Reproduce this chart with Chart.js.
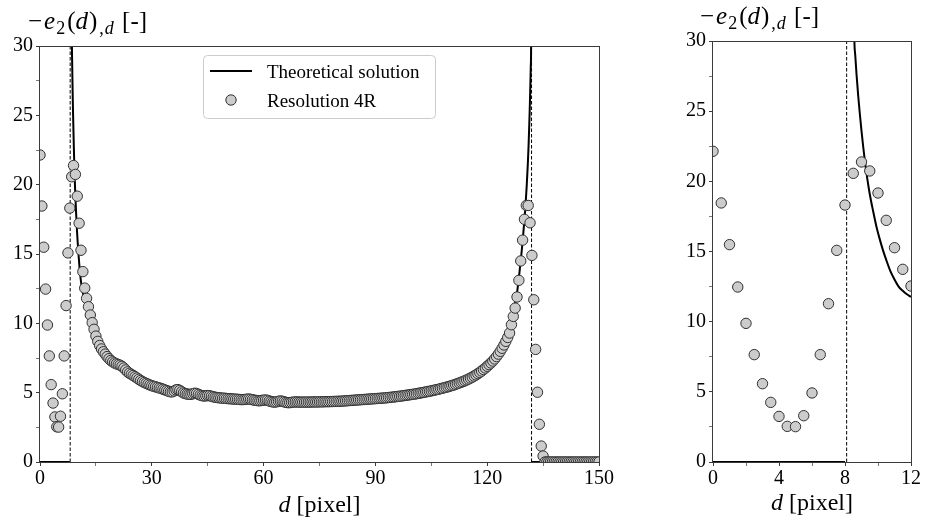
<!DOCTYPE html>
<html>
<head>
<meta charset="utf-8">
<script src="https://cdn.jsdelivr.net/npm/chart.js@4.4.1/dist/chart.umd.min.js"></script>
<style>
  html, body { margin: 0; padding: 0; background: #fff; }
  #wrap { position: relative; width: 925px; height: 523px; }
  canvas { position: absolute; top: 0; }
  #mainChart { left: 0; }
  #zoomChart { left: 620px; }
</style>
</head>
<body>
<div id="wrap">
  <canvas id="mainChart" width="620" height="523"></canvas>
  <canvas id="zoomChart" width="305" height="523"></canvas>
</div>
<script>
// Resolution 4R samples, one every half pixel starting at d = 0
const resStart = 0;
const resStep = 0.5;
const resValues = [
  22.14, 18.46, 15.49, 12.47, 9.88, 7.65, 5.58, 4.25, 3.25, 2.54, 2.52, 3.30, 4.92, 7.65, 11.28, 15.08, 18.31, 20.57, 21.38, 20.74, // 0 - 9.5
  19.17, 17.22, 15.27, 13.73, 12.54, 11.8, 11.2, 10.6, 10.05, 9.57, 9.08, 8.7, 8.4, 8.15, 7.95, 7.78, 7.6, 7.45, 7.32, 7.22,          // 10 - 19.5
  7.14, 7.08, 7.03, 6.98, 6.9, 6.78, 6.64, 6.5, 6.4, 6.32, 6.24, 6.15, 6.06, 5.97, 5.88, 5.8, 5.73, 5.67, 5.61, 5.55,                 // 20 - 29.5
  5.5, 5.46, 5.42, 5.38, 5.34, 5.3, 5.25, 5.2, 5.15, 5.1, 5.06, 5.06, 5.12, 5.2, 5.22, 5.16, 5.06, 4.98, 4.93, 4.9,                   // 30 - 39.5
  4.88, 4.88, 4.92, 4.96, 4.94, 4.88, 4.82, 4.78, 4.76, 4.77, 4.79, 4.78, 4.74, 4.7, 4.67, 4.65, 4.63, 4.62, 4.6, 4.6,                // 40 - 49.5
  4.58, 4.57, 4.56, 4.55, 4.54, 4.53, 4.52, 4.51, 4.5, 4.5, 4.51, 4.53, 4.54, 4.52, 4.49, 4.46, 4.44, 4.42, 4.42, 4.44,               // 50 - 59.5
  4.46, 4.47, 4.45, 4.4, 4.36, 4.33, 4.32, 4.34, 4.38, 4.4, 4.38, 4.34, 4.3, 4.28, 4.28, 4.3, 4.32, 4.33, 4.33, 4.32,                 // 60 - 69.5
  4.32, 4.32, 4.32, 4.32, 4.32, 4.32, 4.33, 4.33, 4.33, 4.33, 4.34, 4.34, 4.34, 4.35, 4.35, 4.35, 4.36, 4.36, 4.37, 4.37,             // 70 - 79.5
  4.38, 4.38, 4.39, 4.4, 4.41, 4.42, 4.43, 4.44, 4.45, 4.46, 4.47, 4.48, 4.49, 4.5, 4.51, 4.52, 4.53, 4.54, 4.55, 4.56,               // 80 - 89.5
  4.57, 4.58, 4.59, 4.6, 4.61, 4.62, 4.63, 4.65, 4.66, 4.68, 4.69, 4.71, 4.73, 4.74, 4.76, 4.78, 4.8, 4.82, 4.84, 4.86,               // 90 - 99.5
  4.88, 4.9, 4.92, 4.95, 4.97, 5.0, 5.02, 5.05, 5.08, 5.1, 5.13, 5.16, 5.19, 5.22, 5.25, 5.29, 5.32, 5.36, 5.39, 5.43,                // 100 - 109.5
  5.47, 5.51, 5.55, 5.6, 5.65, 5.7, 5.75, 5.8, 5.86, 5.92, 5.98, 6.05, 6.12, 6.2, 6.28, 6.37, 6.46, 6.56, 6.67, 6.78,                 // 110 - 119.5
  6.9, 7.02, 7.14, 7.28, 7.43, 7.6, 7.78, 7.98, 8.2, 8.44, 8.7, 8.98, 9.3, 9.9, 10.5, 11.1, 11.9, 13.1, 14.5, 16.0,                  // 120 - 129.5
  17.5, 18.5, 18.5, 17.25, 14.9, 11.7, 8.12, 5.03, 2.72, 1.15, 0.43, 0, 0, 0, 0, 0, 0, 0, 0, 0,                                     // 130 - 139.5
  0, 0, 0, 0, 0, 0, 0, 0, 0, 0, 0, 0, 0, 0, 0, 0, 0, 0, 0, 0,                                                                        // 140 - 149.5
  0                                                                                                                                  // 150
];

// theoretical solution (null = break at the walls)
const theoryD = [0, 8.0, 8.1,
  8.45, 8.57, 8.62, 8.7, 8.8, 8.9, 9.0, 9.1, 9.2, 9.35, 9.5, 9.7, 9.9, 10.1, 10.3, 10.5, 10.75, 11.0, 11.25, 11.5, 11.75, 12,
  13, 14, 15, 16, 18, 20, 23, 26, 30, 35, 40, 45, 50, 55, 60, 65, 70,
  75, 80, 85, 90, 95, 100, 105, 110, 114, 117, 120, 122, 124, 125, 126, 127, 127.5, 128, 128.5, 129, 129.5, 130, 130.3, 130.6,
  130.9, 131.1, 131.3, 131.45, 131.6, 131.7, 131.78, 131.83,
  131.85, 131.9, 150];
const theoryE = [0, 0, null,
  40, 30, 29, 27.6, 26.1, 24.8, 23.6, 22.5, 21.5, 20.2, 19.1, 17.9, 16.8, 15.9, 15.1, 14.4, 13.6, 13.0, 12.5, 12.2, 11.95, 11.76,
  10.75, 9.9, 9.2, 8.6, 7.7, 7.05, 6.4, 5.95, 5.5, 5.1, 4.85, 4.65, 4.52, 4.43, 4.37, 4.33, 4.32,
  4.33, 4.37, 4.43, 4.52, 4.65, 4.85, 5.1, 5.5, 5.95, 6.4, 7.0, 7.6, 8.5, 9.1, 9.8, 10.8, 11.45, 12.2, 13.3, 14.5, 15.9, 17.5, 18.6, 19.9,
  21.5, 22.8, 24.4, 25.8, 27.4, 28.6, 30, 40,
  null, 0, 0];

const wallPositions = [8.1, 131.9];
const wallSpan = [0, 30];

const mainXTicks = [0, 30, 60, 90, 120, 150];
const zoomXTicks = [0, 4, 8, 12];
const yTicks = [0, 5, 10, 15, 20, 25, 30];

const serif = '"Liberation Serif", "Times New Roman", serif';
const spineColor = '#3a3a3a';

function makeDatasets() {
    const sets = [
        {
            label: 'Resolution 4R',
            data: resValues.map((v, i) => ({x: resStart + i * resStep, y: v})),
            pointRadius: 5.2,
            pointBackgroundColor: '#cccccc',
            pointBorderColor: '#303030',
            pointBorderWidth: 1,
            showLine: false,
            clip: 0,
            order: 0
        },
        {
            label: 'Theoretical solution',
            data: theoryD.map((d, i) => ({x: d, y: theoryE[i]})),
            showLine: true,
            spanGaps: false,
            cubicInterpolationMode: 'monotone',
            borderColor: '#000000',
            borderWidth: 2,
            pointRadius: 0,
            order: 1
        }
    ];
    for (const w of wallPositions) {
        sets.push({
            label: 'wall',
            data: wallSpan.map(v => ({x: w, y: v})),
            showLine: true,
            borderColor: '#000000',
            borderWidth: 1,
            borderDash: [3.5, 2],
            pointRadius: 0,
            order: 2
        });
    }
    return sets;
}

function richWidth(ctx, parts) {
    let w = 0;
    for (const p of parts) {
        ctx.font = `${p.italic ? 'italic ' : ''}${p.size}px ${serif}`;
        w += ctx.measureText(p.text).width + (p.gap || 0);
    }
    return w;
}

function drawRich(ctx, x, y, parts) {
    let cx = x;
    for (const p of parts) {
        ctx.font = `${p.italic ? 'italic ' : ''}${p.size}px ${serif}`;
        ctx.fillText(p.text, cx, y + (p.dy || 0));
        cx += ctx.measureText(p.text).width + (p.gap || 0);
    }
}

const yLabelParts = [
    {text: '\u2212', size: 25, gap: 2},
    {text: 'e', size: 25, italic: true, gap: 1},
    {text: '2', size: 18, dy: 5, gap: 2},
    {text: '(', size: 25},
    {text: 'd', size: 25, italic: true, gap: 1},
    {text: ')', size: 25, gap: 2},
    {text: ',', size: 18, dy: 5, gap: 1},
    {text: 'd', size: 18, italic: true, dy: 5, gap: 2},
    {text: ' [-]', size: 25}
];
const xLabelParts = [
    {text: 'd', size: 24, italic: true},
    {text: ' [pixel]', size: 24}
];

// frame, axis labels and the legend box
const figureText = {
    id: 'figureText',
    afterDatasetsDraw(chart) {
        const {ctx, chartArea} = chart;
        ctx.save();
        ctx.strokeStyle = spineColor;
        ctx.lineWidth = 1;
        ctx.strokeRect(Math.round(chartArea.left) - 0.5, Math.round(chartArea.top) + 0.5,
            Math.round(chartArea.right - chartArea.left) + 1, Math.round(chartArea.bottom - chartArea.top));
        ctx.restore();
    },
    afterDraw(chart, args, opts) {
        const {ctx, chartArea} = chart;
        ctx.save();
        ctx.fillStyle = '#000';
        ctx.textBaseline = 'alphabetic';
        drawRich(ctx, opts.yLabelX, opts.yLabelY, yLabelParts);
        const xw = richWidth(ctx, xLabelParts);
        drawRich(ctx, (chartArea.left + chartArea.right) / 2 - xw / 2, opts.xLabelY, xLabelParts);

        if (opts.legend) {
            const lg = opts.legend;
            ctx.beginPath();
            ctx.roundRect(lg.x + 0.5, lg.y + 0.5, lg.w, lg.h, 4);
            ctx.fillStyle = 'rgba(255,255,255,0.8)';
            ctx.fill();
            ctx.strokeStyle = '#cccccc';
            ctx.lineWidth = 1;
            ctx.stroke();

            const entries = ['Theoretical solution', 'Resolution 4R'];
            entries.forEach((name, i) => {
                const ds = chart.data.datasets.find(d => d.label === name);
                const cy = lg.y + 16 + i * 29;
                if (ds.showLine) {
                    ctx.beginPath();
                    ctx.moveTo(lg.x + 7, cy);
                    ctx.lineTo(lg.x + 49, cy);
                    ctx.strokeStyle = ds.borderColor;
                    ctx.lineWidth = ds.borderWidth;
                    ctx.stroke();
                } else {
                    ctx.beginPath();
                    ctx.arc(lg.x + 28, cy, ds.pointRadius, 0, Math.PI * 2);
                    ctx.fillStyle = ds.pointBackgroundColor;
                    ctx.fill();
                    ctx.strokeStyle = ds.pointBorderColor;
                    ctx.lineWidth = ds.pointBorderWidth;
                    ctx.stroke();
                }
                ctx.fillStyle = '#000';
                ctx.font = `19px ${serif}`;
                ctx.fillText(name, lg.x + 64, cy + 7);
            });
        }
        ctx.restore();
    }
};

function buildChart(canvasId, xMax, xStep, xLabels, pad, textOpts) {
    const ctx = document.getElementById(canvasId).getContext('2d');
    return new Chart(ctx, {
        type: 'scatter',
        data: {datasets: makeDatasets()},
        plugins: [figureText],
        options: {
            responsive: false,
            animation: false,
            events: [],
            layout: {padding: pad},
            plugins: {
                legend: {display: false},
                tooltip: {enabled: false},
                figureText: textOpts
            },
            scales: {
                x: {
                    type: 'linear',
                    min: 0,
                    max: xMax,
                    afterFit: (scale) => { scale.height = 61; },
                    afterBuildTicks: (scale) => {
                        const t = [];
                        for (let v = 0; v <= xMax + 1e-9; v += xStep) t.push({value: v});
                        scale.ticks = t;
                    },
                    border: {display: false},
                    grid: {
                        drawOnChartArea: false,
                        drawTicks: true,
                        tickLength: 4,
                        tickColor: (c) => xLabels.includes(c.tick.value) ? spineColor : '#777'
                    },
                    ticks: {
                        autoSkip: false,
                        maxRotation: 0,
                        padding: 1,
                        color: '#000',
                        font: {family: serif, size: 20},
                        callback: (v) => xLabels.includes(v) ? String(v) : ''
                    }
                },
                y: {
                    type: 'linear',
                    min: 0,
                    max: 30,
                    afterFit: (scale) => { scale.width = 40; },
                    afterBuildTicks: (scale) => {
                        const t = [];
                        for (let v = 0; v <= 30; v += 2.5) t.push({value: v});
                        scale.ticks = t;
                    },
                    border: {display: false},
                    grid: {
                        drawOnChartArea: false,
                        drawTicks: true,
                        tickLength: 4,
                        tickColor: (c) => yTicks.includes(c.tick.value) ? spineColor : '#777'
                    },
                    ticks: {
                        autoSkip: false,
                        padding: 3,
                        color: '#000',
                        font: {family: serif, size: 20},
                        callback: (v) => yTicks.includes(v) ? String(v) : ''
                    }
                }
            }
        }
    });
}

buildChart('mainChart', 150, 15, mainXTicks,
    {left: 0, right: 21, top: 46, bottom: 0},
    {yLabelX: 28, yLabelY: 29, xLabelY: 512, legend: {x: 203, y: 55, w: 232, h: 63}});

buildChart('zoomChart', 12, 2, zoomXTicks,
    {left: 53, right: 14, top: 41, bottom: 0},
    {yLabelX: 80, yLabelY: 24, xLabelY: 510, legend: null});
</script>
</body>
</html>
